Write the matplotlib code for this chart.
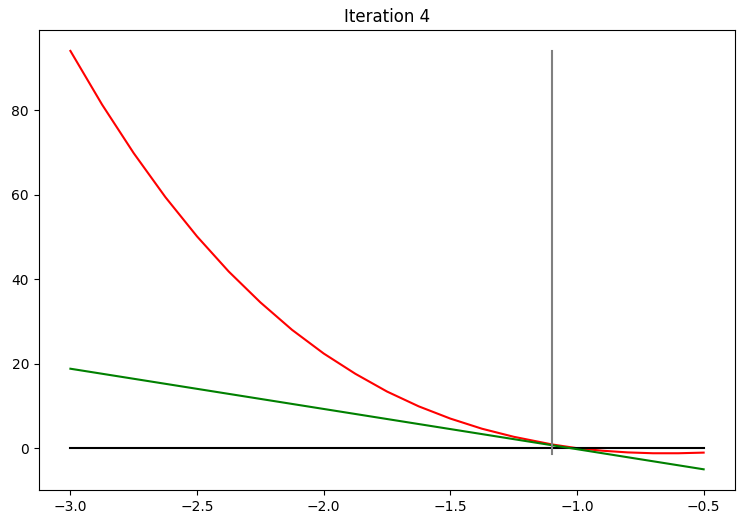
import matplotlib
matplotlib.use("Agg")
import matplotlib.pyplot as plt

# function values
x_werte = [-3.0, -2.875, -2.75, -2.625, -2.5, -2.375, -2.25, -2.125, -2.0, -1.875,
           -1.75, -1.625, -1.5, -1.375, -1.25, -1.1, -1.0, -0.9, -0.8, -0.7, -0.6, -0.5]
f_werte = [94.0, 81.3, 69.8, 59.4, 50.1, 41.8, 34.5, 28.0, 22.4, 17.6,
           13.4, 9.9, 7.0, 4.6, 2.7, 0.9, 0.0, -0.6, -1.0, -1.2, -1.2, -1.05]

# tangent line endpoints
tangente_x = [-3.0, -0.5]
tangente_y = [18.8, -5.0]

# current iterate (vertical marker)
x_iter = -1.1
vert_y = [-1.3, 94.0]

achse_x = [-3.0, -0.5]
achse_y = [0, 0]

fig, ax = plt.subplots(figsize=(7.45, 5.26), dpi=100)
ax.plot(x_werte, f_werte, color="red")
ax.plot(achse_x, achse_y, color="black")
ax.plot(tangente_x, tangente_y, color="green")
ax.plot([x_iter, x_iter], vert_y, color="gray")
ax.set_title("Iteration 4")

plt.subplots_adjust(left=0.052, right=0.987, top=0.943, bottom=0.068)
plt.savefig("out.png")
